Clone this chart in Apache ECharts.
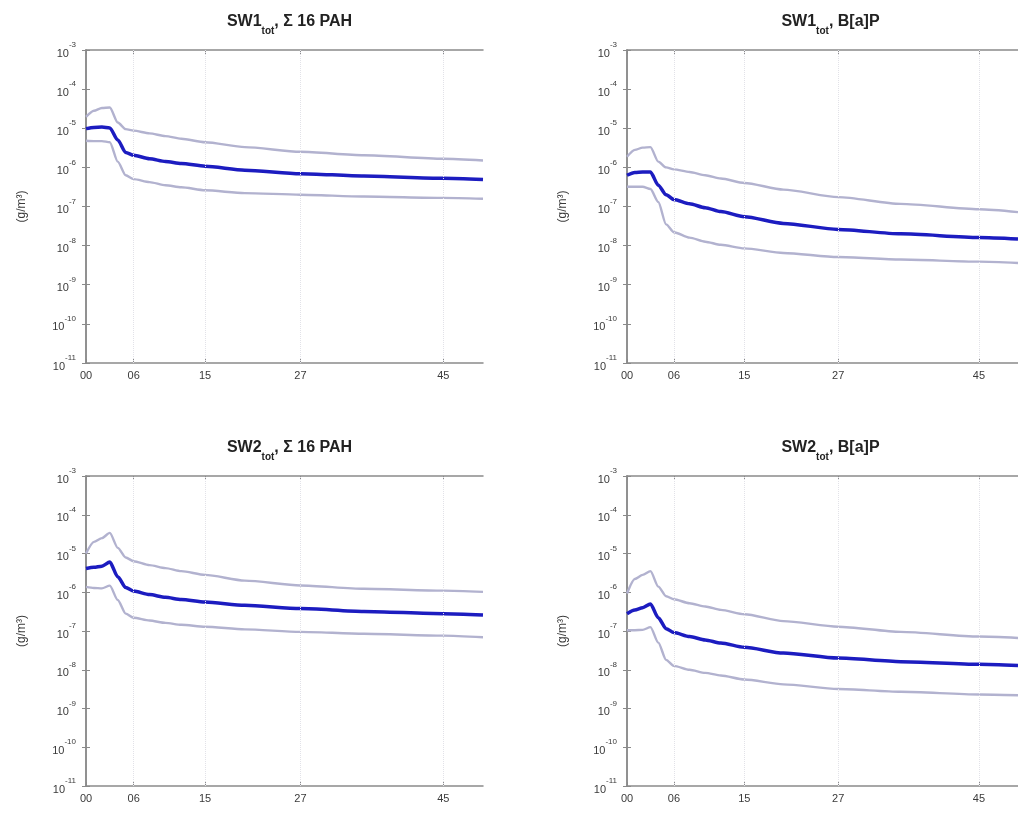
<!DOCTYPE html>
<html>
<head>
<meta charset="utf-8">
<script src="https://cdn.jsdelivr.net/npm/echarts@6/dist/echarts.min.js"></script>
<style>
html,body{margin:0;padding:0;background:#fff;}
#c{width:1018px;height:816px;}
</style>
</head>
<body>
<div id="c"></div>
<script>
// time axis (x) sample points and tick labels
const timeX = [0, 1, 2, 3, 4, 5, 6, 8, 10, 12, 15, 20, 27, 35, 45, 50];
const xTickValues = [0, 6, 15, 27, 45];
const yTickExponents = [-11, -10, -9, -8, -7, -6, -5, -4, -3];

// Panel titles
const titleMain = ["SW1", "SW1", "SW2", "SW2"];
const titleRest = [", \u03A3 16 PAH", ", B[a]P", ", \u03A3 16 PAH", ", B[a]P"];
const yName = "(g/m\u00B3)";

// SW1 tot, Σ16 PAH  (g/m3)
const sw1PahMedian = [9.8e-6, 1.05e-5, 1.07e-5, 1.02e-5, 5.0e-6, 2.4e-6, 2.04e-6, 1.66e-6, 1.41e-6, 1.26e-6, 1.07e-6, 8.5e-7, 6.9e-7, 6.0e-7, 5.25e-7, 4.9e-7];
const sw1PahUpper  = [1.95e-5, 2.8e-5, 3.3e-5, 3.4e-5, 1.4e-5, 9.5e-6, 8.7e-6, 7.4e-6, 6.3e-6, 5.4e-6, 4.4e-6, 3.3e-6, 2.5e-6, 2.05e-6, 1.66e-6, 1.5e-6];
const sw1PahLower  = [4.8e-6, 4.7e-6, 4.7e-6, 4.4e-6, 1.4e-6, 6.3e-7, 5.0e-7, 4.2e-7, 3.5e-7, 3.1e-7, 2.6e-7, 2.2e-7, 2.0e-7, 1.8e-7, 1.66e-7, 1.58e-7];

// SW1 tot, B[a]P
const sw1BapMedian = [6.3e-7, 7.4e-7, 7.6e-7, 7.6e-7, 3.5e-7, 2.0e-7, 1.5e-7, 1.17e-7, 9.3e-8, 7.4e-8, 5.5e-8, 3.7e-8, 2.6e-8, 2.0e-8, 1.62e-8, 1.48e-8];
const sw1BapUpper  = [1.86e-6, 2.8e-6, 3.2e-6, 3.3e-6, 1.4e-6, 1.0e-6, 8.9e-7, 7.6e-7, 6.3e-7, 5.2e-7, 4.0e-7, 2.7e-7, 1.74e-7, 1.17e-7, 8.5e-8, 7.2e-8];
const sw1BapLower  = [3.2e-7, 3.2e-7, 3.2e-7, 2.8e-7, 1.3e-7, 3.5e-8, 2.2e-8, 1.6e-8, 1.26e-8, 1.05e-8, 8.5e-9, 6.5e-9, 5.1e-9, 4.4e-9, 3.9e-9, 3.6e-9];

// SW2 tot, Σ16 PAH
const sw2PahMedian = [4.1e-6, 4.4e-6, 4.7e-6, 6.0e-6, 2.5e-6, 1.32e-6, 1.07e-6, 8.7e-7, 7.4e-7, 6.5e-7, 5.6e-7, 4.6e-7, 3.8e-7, 3.2e-7, 2.8e-7, 2.6e-7];
const sw2PahUpper  = [1.0e-5, 2.0e-5, 2.5e-5, 3.4e-5, 1.4e-5, 7.9e-6, 6.3e-6, 5.0e-6, 4.2e-6, 3.5e-6, 2.8e-6, 2.0e-6, 1.5e-6, 1.23e-6, 1.1e-6, 1.02e-6];
const sw2PahLower  = [1.38e-6, 1.29e-6, 1.26e-6, 1.48e-6, 6.3e-7, 2.8e-7, 2.2e-7, 1.86e-7, 1.62e-7, 1.45e-7, 1.29e-7, 1.1e-7, 9.5e-8, 8.5e-8, 7.6e-8, 6.9e-8];

// SW2 tot, B[a]P
const sw2BapMedian = [2.8e-7, 3.5e-7, 4.0e-7, 5.0e-7, 2.2e-7, 1.15e-7, 9.1e-8, 7.2e-8, 5.9e-8, 4.9e-8, 3.8e-8, 2.7e-8, 2.0e-8, 1.62e-8, 1.38e-8, 1.29e-8];
const sw2BapUpper  = [9.3e-7, 2.2e-6, 2.8e-6, 3.5e-6, 1.4e-6, 7.9e-7, 6.6e-7, 5.2e-7, 4.3e-7, 3.5e-7, 2.7e-7, 1.8e-7, 1.29e-7, 9.5e-8, 7.2e-8, 6.6e-8];
const sw2BapLower  = [1.05e-7, 1.05e-7, 1.07e-7, 1.26e-7, 5.0e-8, 1.8e-8, 1.26e-8, 1.0e-8, 8.3e-9, 7.1e-9, 5.6e-9, 4.2e-9, 3.2e-9, 2.7e-9, 2.3e-9, 2.2e-9];

const panels = [
  {median: sw1PahMedian, upper: sw1PahUpper, lower: sw1PahLower},
  {median: sw1BapMedian, upper: sw1BapUpper, lower: sw1BapLower},
  {median: sw2PahMedian, upper: sw2PahUpper, lower: sw2PahLower},
  {median: sw2BapMedian, upper: sw2BapUpper, lower: sw2BapLower}
];

const grids = [
  {left: 86, top: 50, width: 397, height: 313},
  {left: 627, top: 50, width: 397, height: 313},
  {left: 86, top: 476, width: 397, height: 310},
  {left: 627, top: 476, width: 397, height: 310}
];

const FONT = "Liberation Sans, Arial, sans-serif";
const axisColor = "#8a8a8a";
const labelColor = "#3a3a3a";
const yMin = Math.pow(10, yTickExponents[0]);
const yMax = Math.pow(10, yTickExponents[yTickExponents.length - 1]);

const option = {
  backgroundColor: "#fff",
  animation: false,
  title: [], grid: [], xAxis: [], yAxis: [], series: []
};

grids.forEach((g, i) => {
  option.grid.push(Object.assign({containLabel: false}, g));
  const cx = g.left + g.width / 2;
  option.title.push({
    text: "{a|" + titleMain[i] + "}{s|tot}{a|" + titleRest[i] + "}",
    left: cx, top: g.top - 41, textAlign: "center",
    textStyle: {
      rich: {
        a: {fontFamily: FONT, fontSize: 16, fontWeight: "bold", color: "#222", lineHeight: 22, verticalAlign: "top"},
        s: {fontFamily: FONT, fontSize: 10, fontWeight: "bold", color: "#222", lineHeight: 22, verticalAlign: "bottom"}
      }
    }
  });
  // bottom x axis
  option.xAxis.push({
    gridIndex: i, type: "value", min: 0, max: 50, position: "bottom",
    axisLine: {show: true, lineStyle: {color: axisColor, width: 1.5}},
    axisTick: {show: true, inside: true, length: 4, customValues: xTickValues, lineStyle: {color: axisColor}},
    axisLabel: {
      show: true, customValues: xTickValues, margin: 7,
      fontFamily: FONT, fontSize: 11, color: labelColor,
      formatter: v => String(Math.round(v)).padStart(2, "0")
    },
    splitLine: {show: false}
  });
  // top x axis (box)
  option.xAxis.push({
    gridIndex: i, type: "value", min: 0, max: 50, position: "top",
    axisLine: {show: true, lineStyle: {color: axisColor, width: 1.5}},
    axisTick: {show: true, inside: true, length: 4, customValues: xTickValues, lineStyle: {color: axisColor}},
    axisLabel: {show: false},
    splitLine: {show: false}
  });
  // left y axis
  option.yAxis.push({
    gridIndex: i, type: "log", logBase: 10, min: yMin, max: yMax, interval: 1, position: "left",
    name: yName, nameLocation: "middle", nameGap: 58, nameRotate: 90,
    nameTextStyle: {fontFamily: FONT, fontSize: 12, color: labelColor},
    axisLine: {show: true, lineStyle: {color: axisColor, width: 1.5}},
    axisTick: {show: true, inside: true, length: 4, lineStyle: {color: axisColor}},
    minorTick: {show: false},
    axisLabel: {
      show: true, margin: 10,
      formatter: v => "{b|10}{e|" + Math.round(Math.log10(v)) + "}",
      rich: {
        b: {fontFamily: FONT, fontSize: 11, color: labelColor, lineHeight: 18, verticalAlign: "bottom"},
        e: {fontFamily: FONT, fontSize: 8, color: labelColor, lineHeight: 18, verticalAlign: "top"}
      }
    },
    splitLine: {show: false}
  });
  // right y axis (box)
  option.yAxis.push({
    gridIndex: i, type: "log", logBase: 10, min: yMin, max: yMax, interval: 1, position: "right",
    axisLine: {show: true, lineStyle: {color: axisColor, width: 1.5}},
    axisTick: {show: true, inside: true, length: 4, lineStyle: {color: axisColor}},
    axisLabel: {show: false},
    splitLine: {show: false}
  });

  const p = panels[i];
  const xi = i * 2, yi = i * 2;
  const mk = arr => timeX.map((x, k) => [x, arr[k]]);
  const common = {type: "line", xAxisIndex: xi, yAxisIndex: yi, showSymbol: false, symbol: "none", smooth: 0.25, smoothMonotone: "x", silent: true};
  option.series.push(Object.assign({}, common, {
    name: "grid" + i, data: [],
    markLine: {
      silent: true, symbol: "none", label: {show: false},
      lineStyle: {color: "#e2e2e8", width: 1, type: "dotted"},
      data: xTickValues.filter(v => v > 0).map(v => ({xAxis: v}))
    }
  }));
  option.series.push(Object.assign({}, common, {name: "upper" + i, data: mk(p.upper), lineStyle: {color: "#b2b2cf", width: 2.4}}));
  option.series.push(Object.assign({}, common, {name: "lower" + i, data: mk(p.lower), lineStyle: {color: "#b2b2cf", width: 2.4}}));
  option.series.push(Object.assign({}, common, {name: "median" + i, data: mk(p.median), lineStyle: {color: "#1c1cc0", width: 3.5}}));
});

const chart = echarts.init(document.getElementById("c"), null, {renderer: "canvas"});
chart.setOption(option);
</script>
</body>
</html>
